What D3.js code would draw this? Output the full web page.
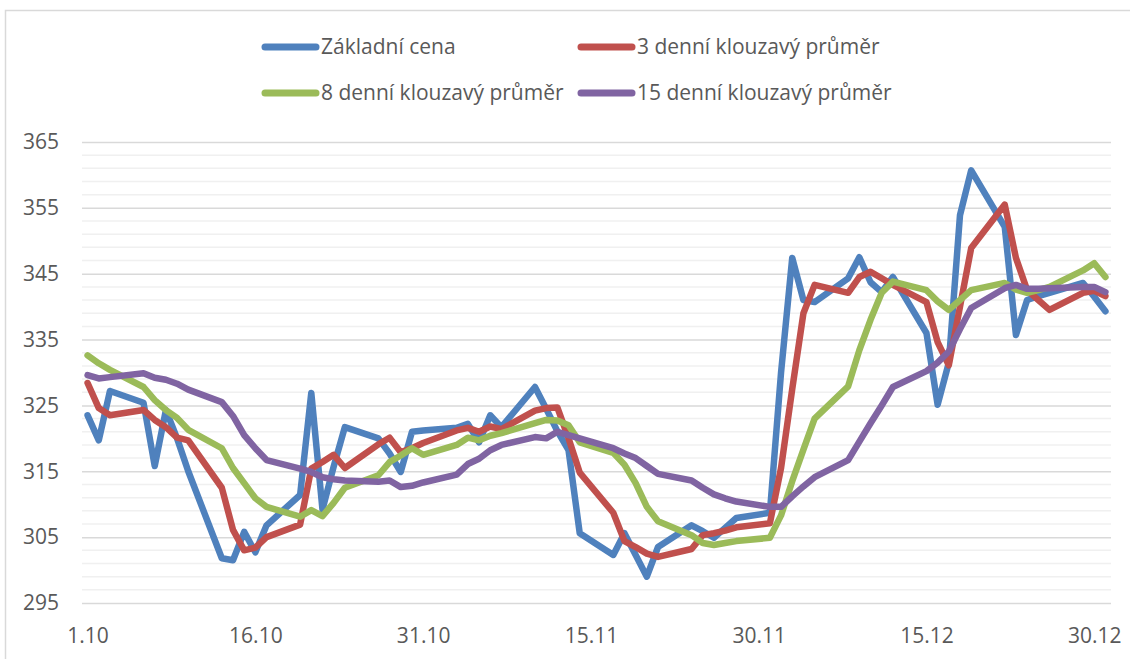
<!DOCTYPE html>
<head>
    <meta charset="utf-8">
    <script src="https://d3js.org/d3.v7.min.js"></script>
    <style>
        body { margin: 0; background: #fff; }
        text { font-family: "Open Sans", sans-serif; fill: #595959; }
    </style>
</head>
<body>
    <svg></svg>
    <script>
        // trading days, day.month (2014)
        var dates = ["1.10","2.10","3.10","6.10","7.10","8.10","9.10","10.10","13.10","14.10","15.10","16.10","17.10",
                     "20.10","21.10","22.10","23.10","24.10","27.10","28.10","29.10","30.10","31.10",
                     "3.11","4.11","5.11","6.11","7.11","10.11","11.11","12.11","13.11","14.11",
                     "17.11","18.11","19.11","20.11","21.11","24.11","25.11","26.11","27.11","28.11",
                     "1.12","2.12","3.12","4.12","5.12","8.12","9.12","10.12","11.12","12.12",
                     "15.12","16.12","17.12","18.12","19.12","22.12","23.12","24.12","25.12","26.12","29.12","30.12","31.12"];

        var basePrice = [323.5, 319.7, 327.2, 325.4, 315.8, 324.3, 320.0, 315.0, 301.8, 301.5, 305.8, 302.7, 306.8,
                         311.4, 326.9, 309.2, 315.7, 321.7, 320.0, 317.7, 314.9, 321.0, 321.2,
                         321.6, 322.2, 319.4, 323.5, 321.7, 327.8, 324.5, 321.1, 318.2, 305.6,
                         302.3, 305.6, 302.3, 299.0, 303.5, 306.8, 305.9, 304.9, 306.4, 307.9,
                         308.7, 330.0, 347.4, 341.0, 340.7, 344.3, 347.5, 343.7, 342.2, 344.5,
                         336.0, 325.1, 331.5, 353.9, 360.7, 352.1, 335.7, 341.0, 341.6, 342.1, 343.6, 341.5, 339.3];

        var ma3 = [328.4, 324.6, 323.5, 324.3, 322.8, 321.7, 320.1, 319.7, 312.5, 306.1, 303.0, 303.4, 305.0,
                   306.9, 315.4, 316.4, 317.5, 315.5, 319.1, 320.1, 317.9, 318.5, 319.3,
                   321.2, 321.6, 321.0, 321.8, 321.4, 324.2, 324.6, 324.7, 320.0, 314.8,
                   308.7, 304.4, 303.5, 302.5, 302.0, 303.2, 305.3, 305.6, 306.0, 306.5,
                   307.1, 315.5, 327.5, 339.0, 343.3, 342.1, 344.5, 345.3, 344.3, 343.3,
                   340.7, 334.6, 331.1, 340.0, 348.9, 355.5, 347.4, 342.5, 341.0, 339.5, 342.1, 342.4, 341.6];

        var ma8 = [332.6, 331.4, 330.4, 327.8, 325.8, 324.3, 323.1, 321.3, 318.5, 315.5, 313.2, 310.9, 309.6,
                   308.1, 309.1, 308.2, 310.2, 312.5, 314.4, 316.4, 317.4, 318.5, 317.5,
                   319.0, 320.1, 319.7, 320.4, 320.8, 322.3, 322.8, 322.7, 322.0, 319.4,
                   317.8, 316.0, 313.2, 309.6, 307.4, 305.3, 304.1, 303.8, 304.1, 304.4,
                   304.9, 308.3, 313.5, 318.3, 323.0, 327.9, 333.4, 338.0, 342.1, 343.8,
                   342.5, 340.8, 339.5, 341.0, 342.5, 343.6, 342.6, 342.1, 342.5, 343.0, 345.5, 346.6, 344.5];

        var ma15 = [329.6, 329.1, 329.3, 329.9, 329.2, 328.9, 328.3, 327.4, 325.5, 323.4, 320.5, 318.5, 316.7,
                    315.4, 314.9, 314.1, 313.8, 313.6, 313.4, 313.6, 312.6, 312.8, 313.3,
                    314.5, 316.1, 316.9, 318.2, 319.0, 320.2, 320.0, 321.0, 320.5, 320.0,
                    318.5, 317.7, 317.0, 315.8, 314.6, 313.6, 312.5, 311.5, 310.9, 310.4,
                    309.6, 309.6, 311.2, 312.7, 314.1, 316.7, 319.5, 322.3, 325.0, 327.8,
                    330.2, 331.5, 333.2, 336.6, 339.8, 342.8, 343.3, 342.7, 342.7, 342.8, 343.0, 343.0, 342.2];

        var seriesNames = ["Základní cena", "3 denní klouzavý průměr", "8 denní klouzavý průměr", "15 denní klouzavý průměr"];
        var seriesColors = ["#4F81BD", "#C0504D", "#9BBB59", "#8064A2"];
        var yTicks = [295, 305, 315, 325, 335, 345, 355, 365];
        var xTickLabels = ["1.10", "16.10", "31.10", "15.11", "30.11", "15.12", "30.12"];

        var W = 1130, H = 659;
        var plotLeft = 82, plotRight = 1111, plotTop = 142, plotBottom = 603;

        function parseDate(s) {
            var p = s.split(".");
            return new Date(Date.UTC(2014, +p[1] - 1, +p[0]));
        }

        var svg = d3.select("svg").attr("width", W).attr("height", H);

        // outer chart border
        svg.append("rect")
            .attr("x", 5.5).attr("y", 10.5)
            .attr("width", 1200).attr("height", 700)
            .attr("fill", "none").attr("stroke", "#d9d9d9").attr("stroke-width", 1.5);

        // date axis, half a day of padding on both sides
        var x = d3.scaleUtc()
            .domain([new Date(Date.UTC(2014, 8, 30, 12)), new Date(Date.UTC(2014, 11, 31, 12))])
            .range([plotLeft, plotRight]);
        var y = d3.scaleLinear()
            .domain([295, 365])
            .range([plotBottom, plotTop]);

        // minor gridlines every 2
        var minor = d3.range(295, 366, 2).filter(function (v) { return (v - 295) % 10 !== 0; });
        svg.append("g").selectAll("line")
            .data(minor).enter().append("line")
            .attr("x1", plotLeft).attr("x2", plotRight)
            .attr("y1", function (d) { return y(d); })
            .attr("y2", function (d) { return y(d); })
            .attr("stroke", "#f0f0f0").attr("stroke-width", 1.5);

        // y axis with major gridlines
        var yAxis = svg.append("g")
            .attr("transform", "translate(" + plotLeft + ",0)")
            .call(d3.axisLeft(y).tickValues(yTicks).tickSize(-(plotRight - plotLeft)).tickPadding(23));
        yAxis.select(".domain").remove();
        yAxis.selectAll(".tick line").attr("stroke", "#d9d9d9").attr("stroke-width", 1.5);
        yAxis.selectAll(".tick text").style("font-size", "21px").style("fill", "#595959");

        // x axis labels
        var xAxis = svg.append("g")
            .attr("transform", "translate(0," + plotBottom + ")")
            .call(d3.axisBottom(x)
                .tickValues(xTickLabels.map(parseDate))
                .tickFormat(d3.utcFormat("%-d.%-m"))
                .tickSize(0).tickPadding(25));
        xAxis.select(".domain").remove();
        xAxis.selectAll(".tick text").style("font-size", "21px").style("fill", "#595959");

        // series lines
        var allSeries = [basePrice, ma3, ma8, ma15];
        var line = d3.line()
            .x(function (d, i) { return x(parseDate(dates[i])); })
            .y(function (d) { return y(d); });

        svg.append("g").selectAll("path")
            .data(allSeries).enter().append("path")
            .attr("d", line)
            .attr("fill", "none")
            .attr("stroke", function (d, i) { return seriesColors[i]; })
            .attr("stroke-width", 6.5)
            .attr("stroke-linejoin", "round")
            .attr("stroke-linecap", "round");

        // legend, two rows of two
        var legend = svg.append("g").selectAll("g")
            .data(seriesNames).enter().append("g")
            .attr("transform", function (d, i) {
                return "translate(" + (262 + (i % 2) * 316) + "," + (47 + Math.floor(i / 2) * 46) + ")";
            });
        legend.append("line")
            .attr("x1", 3).attr("x2", 54)
            .attr("stroke", function (d, i) { return seriesColors[i]; })
            .attr("stroke-width", 7)
            .attr("stroke-linecap", "round");
        legend.append("text")
            .attr("x", 59).attr("dy", "0.35em")
            .style("font-size", "21px")
            .text(function (d) { return d; });
    </script>
</body>
